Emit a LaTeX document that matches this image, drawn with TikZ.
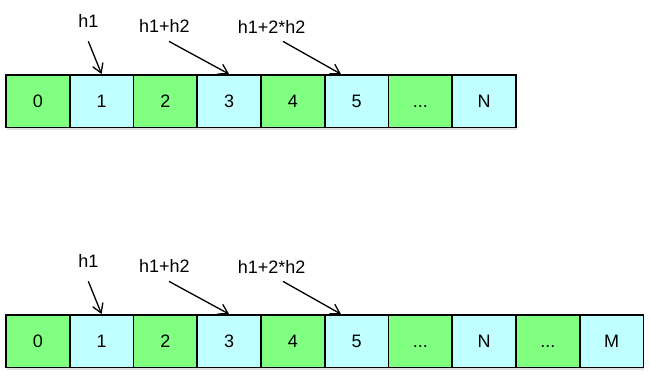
\documentclass[tikz,border=0pt]{standalone}
\usepackage{fontspec}
\setmainfont{Liberation Sans}
\usetikzlibrary{arrows.meta,shadows}
\definecolor{cellgreen}{RGB}{128,255,128}
\definecolor{cellcyan}{RGB}{192,255,255}
\tikzset{
  cellbox/.style={draw=black, line width=0.8pt, minimum width=31.875pt,
    minimum height=26.35pt, inner sep=0pt, text height=6.5pt, text depth=0pt,
    font=\fontsize{9}{11}\selectfont,
    drop shadow={shadow xshift=0.5pt, shadow yshift=-1pt, opacity=0.25}},
  ptrln/.style={-{Straight Barb[length=4.5pt,width=5.5pt]}, line width=0.65pt},
  ptrlbl/.style={anchor=base, inner sep=0pt, font=\fontsize{9}{11}\selectfont},
}
\newcommand{\skipdots}{...}

\begin{document}
\begin{tikzpicture}[x=0.5pt, y=-0.5pt]
    \useasboundingbox (0,0) rectangle (650,378);
    % top row
    \foreach \lbl/\col [count=\i from 0] in {0/cellgreen,1/cellcyan,2/cellgreen,
        3/cellcyan,4/cellgreen,5/cellcyan,\skipdots/cellgreen,N/cellcyan}
      \node[cellbox, fill=\col] (top\i) at ({6+63.75*(\i+0.5)},101.3) {\lbl};
    % bottom row
    \foreach \lbl/\col [count=\i from 0] in {0/cellgreen,1/cellcyan,2/cellgreen,
        3/cellcyan,4/cellgreen,5/cellcyan,\skipdots/cellgreen,N/cellcyan,
        \skipdots/cellgreen,M/cellcyan}
      \node[cellbox, fill=\col] (bot\i) at ({6+63.75*(\i+0.5)},341.3) {\lbl};
    % pointers
    \foreach \row/\dy in {top/0,bot/240} {
      \node[ptrlbl] (\row-a) at (88.3,27.7+\dy) {h1};
      \node[ptrlbl] (\row-b) at (164.3,32.3+\dy) {h1+h2};
      \node[ptrlbl] (\row-c) at (271.7,33.3+\dy) {h1+2*h2};
      \draw[ptrln] ([yshift=-6.6pt]\row-a.south) -- (\row1.north);
      \draw[ptrln] ([xshift=2.35pt,yshift=-4.35pt]\row-b.south) -- (\row3.north);
      \draw[ptrln] ([xshift=5.65pt,yshift=-3.85pt]\row-c.south) -- ([xshift=-7.8pt]\row5.north);
    }
\end{tikzpicture}
\end{document}
